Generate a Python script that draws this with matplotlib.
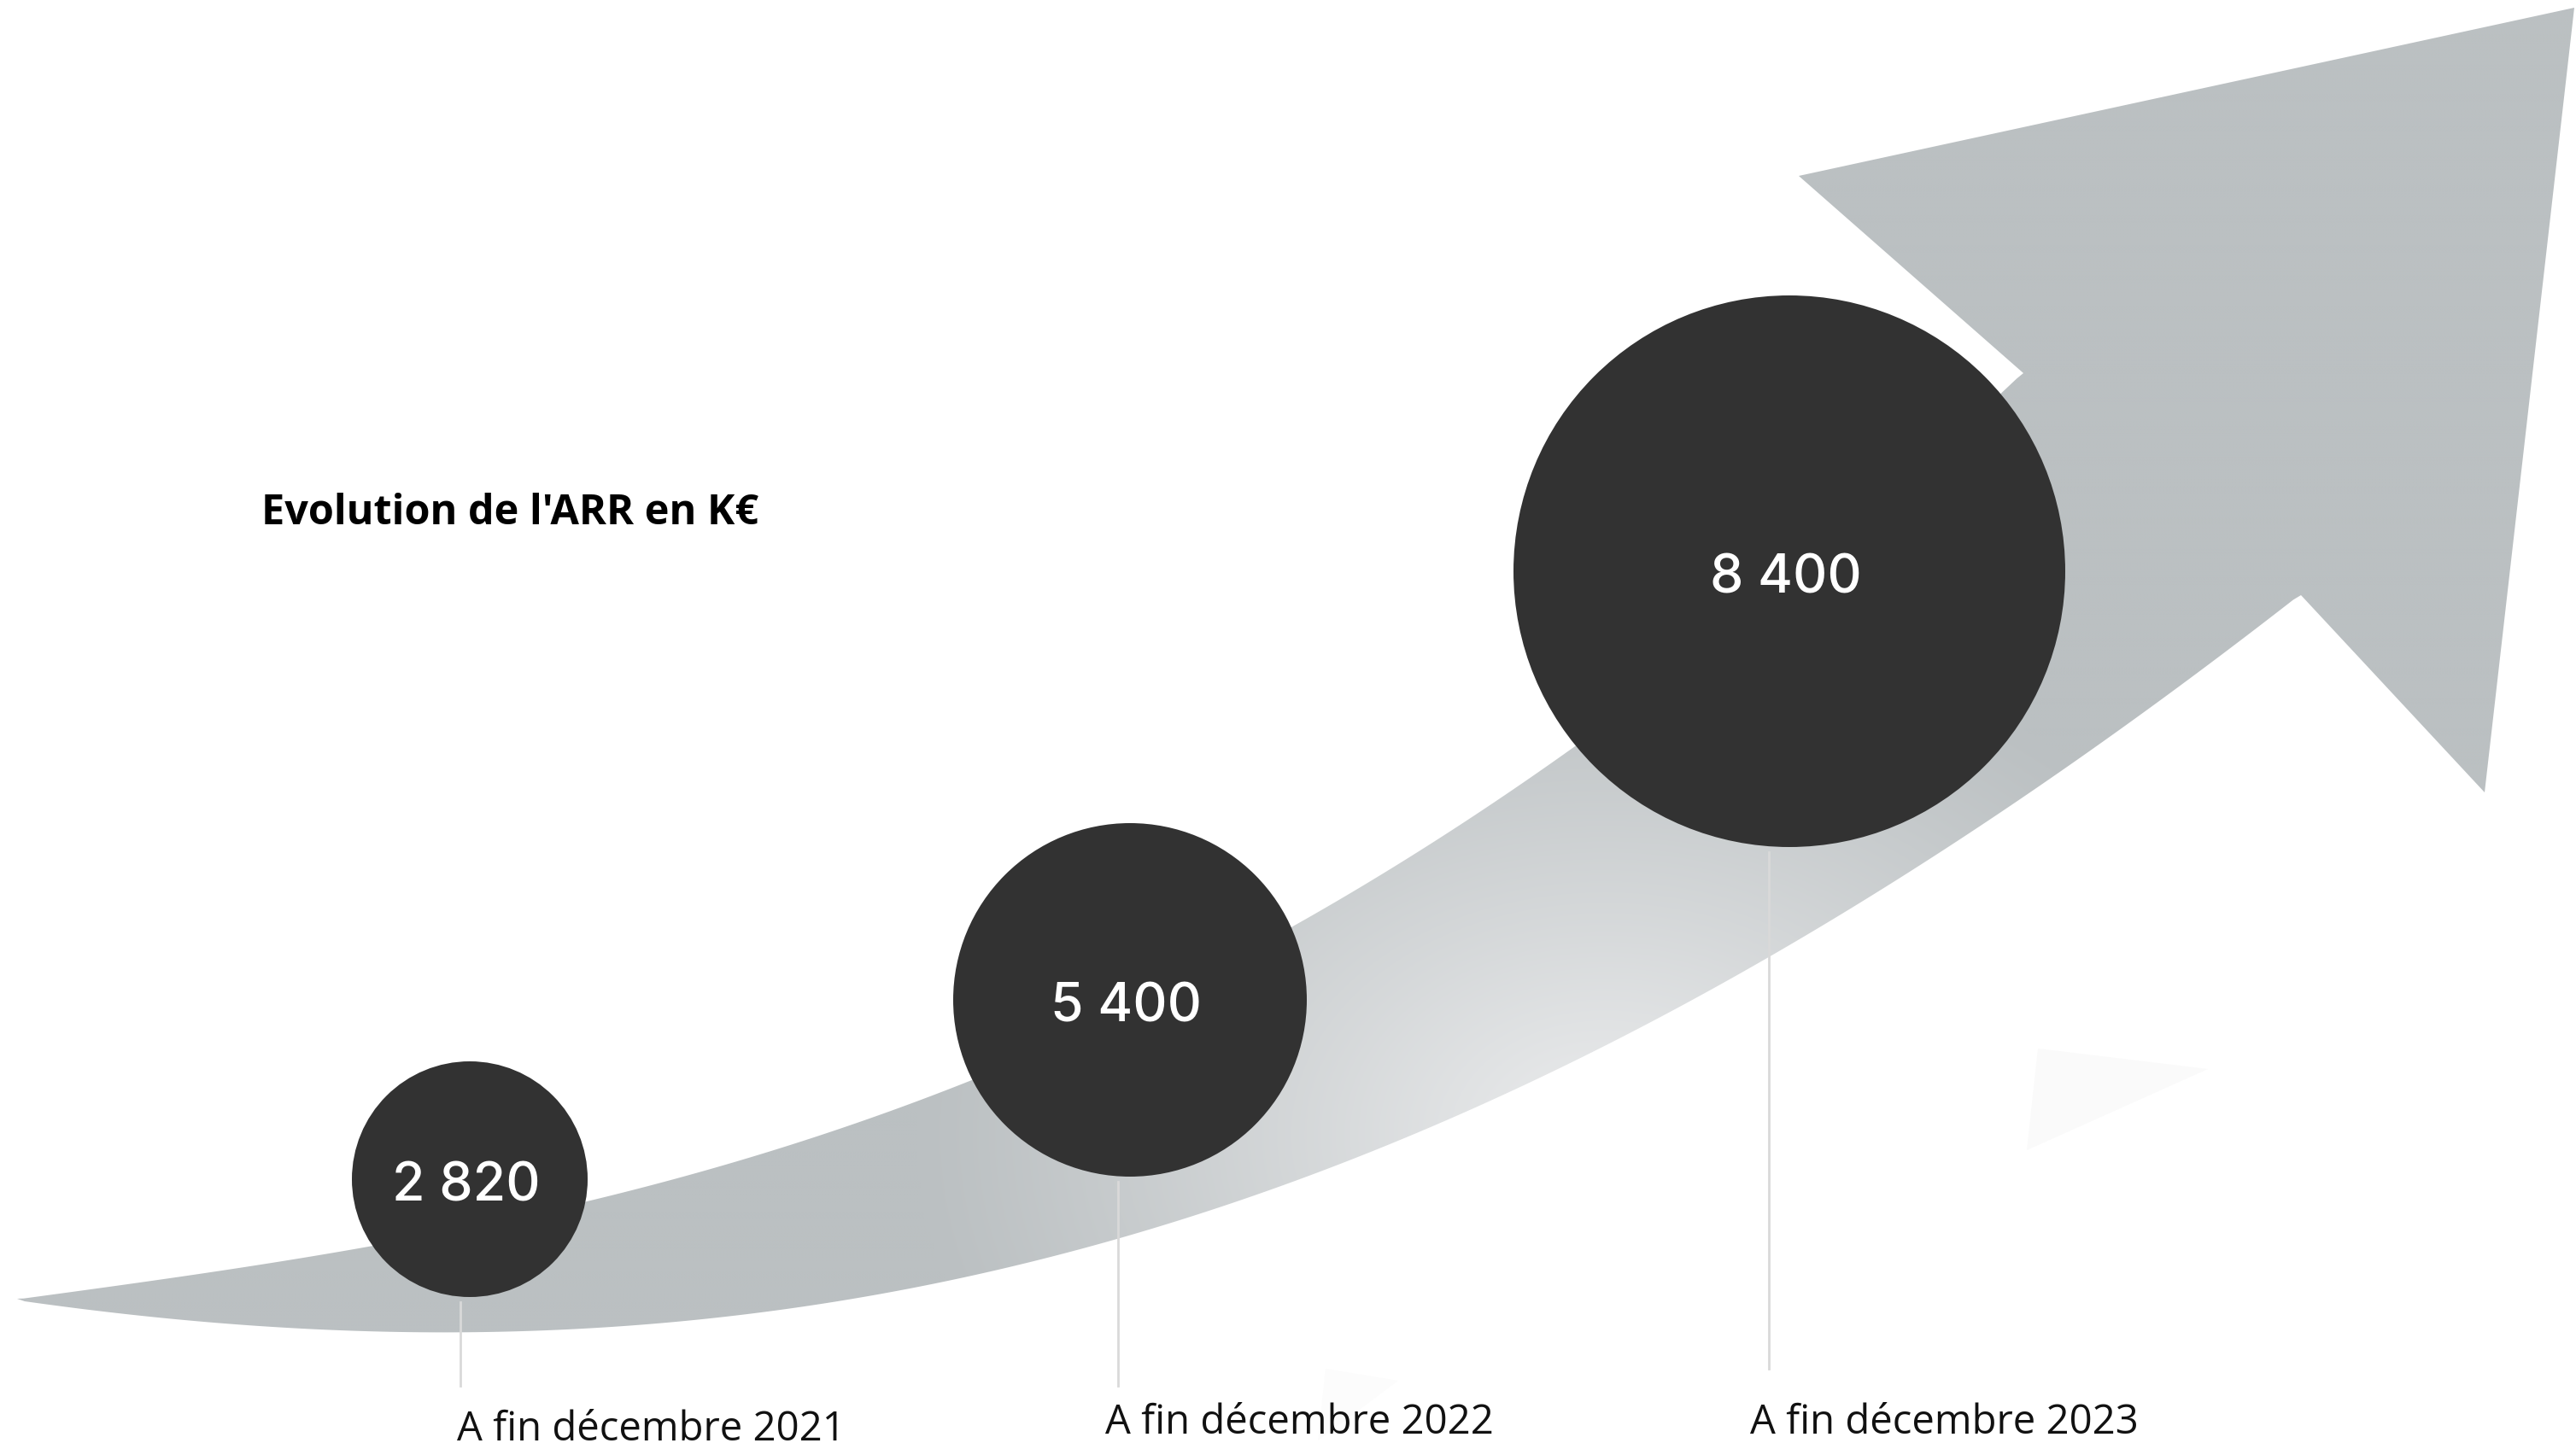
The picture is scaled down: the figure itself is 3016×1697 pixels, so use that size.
import numpy as np
import matplotlib
matplotlib.use("Agg")
import matplotlib.pyplot as plt
from matplotlib.patches import Circle, Polygon

# data
periods = ["A fin décembre 2021", "A fin décembre 2022", "A fin décembre 2023"]
arr_values = [2820, 5400, 8400]
title = "Evolution de l'ARR en K€"

# layout (pixel units of the 3016x1697 canvas)
W, H = 3016, 1697
bubble_x = [550, 1323, 2095]
bubble_y = [1381, 1171, 669]
bubble_r = [138, 207, 323]
line_x = [539, 1309, 2071]
line_end = [1623, 1623, 1603]
label_x = [535, 1294, 2049]
label_y = [1674, 1666, 1666]

# arrow outline
upper_edge = [(20, 1521), (192, 1500), (383, 1466), (700, 1407), (900, 1348),
              (1133, 1265), (1330, 1180), (1517, 1082), (1847, 880),
              (2100, 668), (2347, 458), (2369, 437)]
head = [(2106, 206), (3014, 9), (2909, 928), (2694, 697)]
lower_edge = [(20, 1521), (250, 1551), (523, 1563), (700, 1556), (967, 1520),
              (1220, 1472), (1500, 1392), (1731, 1300), (2020, 1150),
              (2300, 975), (2567, 792), (2694, 697)]

base_col = np.array([187, 192, 194]) / 255
light_col = np.array([236, 237, 238]) / 255


def edge(pts, deg=4, n=300):
    pts = np.asarray(pts, float)
    c = np.polyfit(pts[:, 0], pts[:, 1], deg)
    xs = np.linspace(pts[0, 0], pts[-1, 0], n)
    ys = np.polyval(c, xs)
    ys[0], ys[-1] = pts[0, 1], pts[-1, 1]
    return np.column_stack([xs, ys])


fig = plt.figure(figsize=(W / 100, H / 100), dpi=100)
ax = fig.add_axes([0, 0, 1, 1])
ax.set_xlim(0, W)
ax.set_ylim(H, 0)
ax.axis("off")

outline = np.vstack([edge(upper_edge), np.array(head, float), edge(lower_edge)[::-1]])
arrow = Polygon(outline, closed=True, facecolor="none", edgecolor="none")
ax.add_patch(arrow)

# gradient fill, lighter along the lower middle of the shaft
gx, gy = np.meshgrid(np.linspace(0, W, 754), np.linspace(0, H, 425))
d = np.hypot((gx - 1880) / 1.15, (gy - 1330) / 0.85)
w = np.clip(1 - d / 700, 0, 1) ** 1.1
img = base_col[None, None, :] + (light_col - base_col)[None, None, :] * w[..., None]
im = ax.imshow(img, extent=(0, W, H, 0), interpolation="bilinear", zorder=1)
im.set_clip_path(arrow)

# faint leftover shapes
ax.add_patch(Polygon([(2386, 1228), (2585, 1252), (2373, 1347)], closed=True,
                     facecolor="#fafafa", edgecolor="none", zorder=1))
ax.add_patch(Polygon([(1552, 1603), (1637, 1617), (1543, 1687)], closed=True,
                     facecolor="#fcfcfc", edgecolor="none", zorder=1))

for i, v in enumerate(arr_values):
    ax.plot([line_x[i], line_x[i]], [bubble_y[i] + bubble_r[i] + 6, line_end[i]],
            color="#d9d9d9", lw=2, zorder=2)
    ax.add_patch(Circle((bubble_x[i], bubble_y[i]), bubble_r[i],
                        facecolor="#323232", edgecolor="none", zorder=3))
    ax.text(bubble_x[i] - 4, bubble_y[i] + 9, f"{v:,}".replace(",", " "),
            color="white", fontsize=45, family="Inter", fontweight="medium",
            ha="center", va="center", zorder=4)
    ax.text(label_x[i], label_y[i], periods[i], color="#111111", fontsize=34,
            family="Open Sans", ha="left", va="center", zorder=4)

ax.text(306, 602, title, fontsize=35, family="Open Sans", fontweight="bold",
        color="black", ha="left", va="center")

fig.savefig("out.png", dpi=100)
